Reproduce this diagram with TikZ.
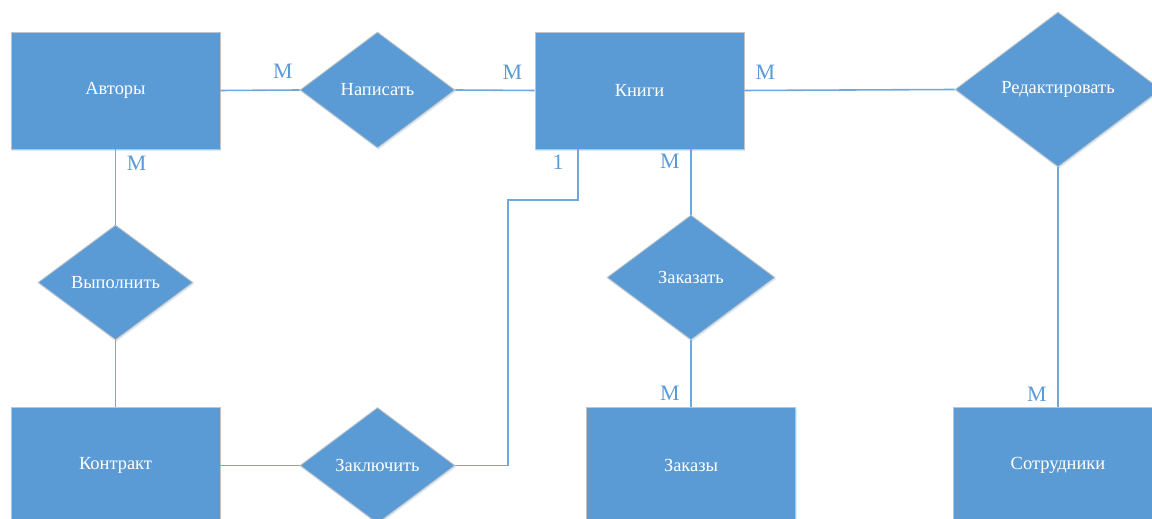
\documentclass[tikz,border=0pt]{standalone}
\usepackage{fontspec}
\setmainfont{Liberation Serif}
\newfontfamily\erfont{Liberation Serif}
\usetikzlibrary{shapes.geometric}
\usetikzlibrary{calc}
\usetikzlibrary{shadows}

\definecolor{erblue}{HTML}{5B9BD5}
\definecolor{erline}{HTML}{6FA8DC}
\definecolor{erborder}{HTML}{C0C4C8}

\tikzset{
    entity/.style={rectangle, fill=erblue, draw=erborder, line width=0.5pt,
        minimum width=4.18cm, minimum height=2.34cm, text=white,
        font=\erfont\fontsize{10.5}{12}\selectfont,
        drop shadow={shadow xshift=0.6pt, shadow yshift=-1pt, fill=erblue!35, opacity=0.6}},
    relation/.style={diamond, fill=erblue, draw=erborder, line width=0.5pt,
        inner sep=0pt, text=white, font=\erfont\fontsize{10.5}{12}\selectfont,
        drop shadow={shadow xshift=0.6pt, shadow yshift=-1pt, fill=erblue!35, opacity=0.6}},
    conn/.style={draw=erline, line width=0.9pt},
    card/.style={text=erblue, font=\erfont\fontsize{12.5}{14}\selectfont, inner sep=1pt}
}

\begin{document}
\begin{tikzpicture}[x=0.02cm, y=-0.02cm]
        \useasboundingbox (0,0) rectangle (1152,519);

        % Entities
        \node[entity] (avtory) at (115.5,90.5) {Авторы};
        \node[entity] (knigi) at (639.5,90.5) {Книги};
        \node[entity] (kontrakt) at (115.5,465.5) {Контракт};
        \node[entity] (zakazy) at (691,465.5) {Заказы};
        \node[entity] (sotrudniki) at (1058,465.5) {Сотрудники};

        % Relationships
        \node[relation, minimum width=3.1cm, minimum height=2.32cm] (napisat) at (377.5,90) {Написать};
        \node[relation, minimum width=4.12cm, minimum height=3.1cm] (redakt) at (1058,89.5) {Редактировать};
        \node[relation, minimum width=3.1cm, minimum height=2.3cm] (vypolnit) at (115.5,282.5) {Выполнить};
        \node[relation, minimum width=3.36cm, minimum height=2.5cm] (zakazat) at (691,277.5) {Заказать};
        \node[relation, minimum width=3.1cm, minimum height=2.32cm] (zakluchit) at (377.5,465.5) {Заключить};

        % Connectors, top row
        \draw[conn] (avtory.east) -- (napisat.west)
            node[card, pos=0.79, above, yshift=5pt] {M};
        \draw[conn] (napisat.east) -- (knigi.west)
            node[card, pos=0.72, above, yshift=5pt] {M};
        \draw[conn] (knigi.east) -- (redakt.west)
            node[card, pos=0.1, above, yshift=5pt] {M};

        % Left column
        \draw[conn] (avtory.south) -- (vypolnit.north)
            node[card, pos=0.18, right, xshift=5pt] {M};
        \draw[conn] (vypolnit.south) -- (kontrakt.north);
        \draw[conn] (kontrakt.east) -- (zakluchit.west);

        % Contract to books
        \coordinate (k1) at ($(knigi.south)+(-61.5,0)$);
        \draw[conn] (zakluchit.east) -| (508,200) -| (k1);
        \node[card] (one) at ($(k1)+(-20,13)$) {1};

        % Orders
        \draw[conn] (zakazat.north) -- (zakazat.north |- knigi.south)
            node[card, pos=0.82, left, xshift=-5pt] {M};
        \draw[conn] (zakazat.south) -- (zakazy.north)
            node[card, pos=0.8, left, xshift=-5pt] {M};

        % Staff
        \draw[conn] (redakt.south) -- (sotrudniki.north)
            node[card, pos=0.95, left, xshift=-5pt] {M};
\end{tikzpicture}
\end{document}
